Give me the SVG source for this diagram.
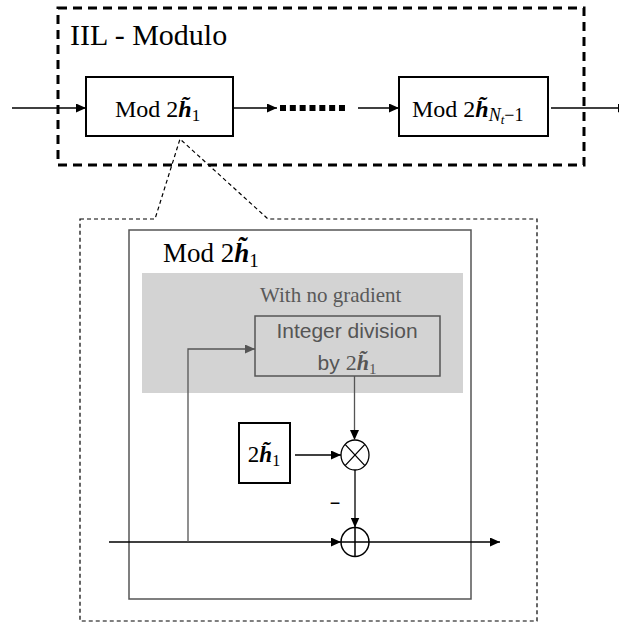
<svg xmlns="http://www.w3.org/2000/svg" width="619" height="624" viewBox="0 0 619 624">
<defs>
<style>
.hb{font-weight:bold;font-style:italic;}
.ln{stroke:#000;stroke-width:1.3;fill:none;}
.gl{stroke:#555;stroke-width:1.3;fill:none;}
.box{fill:#fff;stroke:#000;stroke-width:2;}
</style>
<marker id="ah" markerUnits="userSpaceOnUse" markerWidth="10" markerHeight="9" refX="10" refY="4.5" orient="auto">
<path d="M0,0 L10,4.5 L0,9 Z" fill="#000"/>
</marker>
<marker id="ahg" markerUnits="userSpaceOnUse" markerWidth="10" markerHeight="9" refX="10" refY="4.5" orient="auto">
<path d="M0,0 L10,4.5 L0,9 Z" fill="#555"/>
</marker>
</defs>
<rect width="619" height="624" fill="#fff"/>

<g id="iil-module">
<rect x="58" y="8" width="526" height="157" fill="none" stroke="#000" stroke-width="3" stroke-dasharray="9 6"/>
<text x="70" y="45" font-family="Liberation Serif, serif" font-size="30">IIL - Modulo</text>
</g>

<g id="zoom-outline">
<path d="M80,219 L155,219 L180,139 L268,219 L537,219 L537,621 L80,621 Z" fill="none" stroke="#000" stroke-width="1.2" stroke-dasharray="4 3"/>
</g>

<g id="mod1">
<rect x="86" y="77" width="147" height="59" class="box"/>
<text x="115" y="117" font-family="Liberation Serif, serif" font-size="24">Mod 2<tspan class="hb">h̃</tspan><tspan font-size="17" dy="4">1</tspan></text>
</g>

<g id="modN">
<rect x="399" y="77" width="149" height="59" class="box"/>
<text x="412" y="117" font-family="Liberation Serif, serif" font-size="24">Mod 2<tspan class="hb">h̃</tspan><tspan font-size="18" font-style="italic" dy="4">N</tspan><tspan font-size="13" font-style="italic" dy="3">t</tspan><tspan font-size="18" dy="-3">−1</tspan></text>
</g>

<g id="mod-detail">
<rect x="129" y="230" width="342" height="369" fill="none" stroke="#555" stroke-width="1.5"/>
<text x="163" y="262" font-family="Liberation Serif, serif" font-size="27">Mod 2<tspan class="hb">h̃</tspan><tspan font-size="19" dy="5">1</tspan></text>
</g>

<g id="no-gradient">
<rect x="142" y="273" width="321" height="120" fill="#d3d3d3"/>
<text x="260" y="302" font-family="Liberation Serif, serif" font-size="21" fill="#595959">With no gradient</text>
</g>

<g id="integer-division">
<rect x="255" y="316" width="185" height="60" fill="none" stroke="#555" stroke-width="1.5"/>
<text x="347" y="338" font-family="Liberation Sans, sans-serif" font-size="21" fill="#555" text-anchor="middle">Integer division</text>
<text x="347" y="370" font-family="Liberation Sans, sans-serif" font-size="21" fill="#555" text-anchor="middle">by <tspan font-family="Liberation Serif, serif" font-size="22">2</tspan><tspan font-family="Liberation Serif, serif" class="hb" font-size="22">h̃</tspan><tspan font-family="Liberation Serif, serif" font-size="15" dy="4">1</tspan></text>
</g>

<g id="const-2h">
<rect x="239" y="423" width="51" height="60" class="box"/>
<text x="264" y="462" font-family="Liberation Serif, serif" font-size="23" text-anchor="middle">2<tspan class="hb">h̃</tspan><tspan font-size="16" dy="4">1</tspan></text>
</g>

<g id="multiply">
<ellipse cx="355" cy="455" rx="14" ry="15" fill="#fff" stroke="#000" stroke-width="1.3"/>
<path d="M345.1,444.4 L364.9,465.6 M364.9,444.4 L345.1,465.6" class="ln"/>
</g>

<g id="add">
<ellipse cx="355" cy="542" rx="14" ry="14.5" fill="#fff" stroke="#000" stroke-width="1.5"/>
<path d="M341,542 L369,542 M355,527.5 L355,556.5" stroke="#000" stroke-width="1.5"/>
</g>

<g id="connectors">
<line x1="12" y1="108" x2="86" y2="108" class="ln" marker-end="url(#ah)"/>
<line x1="233" y1="108" x2="277" y2="108" class="ln" marker-end="url(#ah)"/>
<line x1="280" y1="108" x2="345" y2="108" stroke="#000" stroke-width="6" stroke-dasharray="6 3.83"/>
<line x1="358" y1="108" x2="399" y2="108" class="ln" marker-end="url(#ah)"/>
<line x1="551" y1="108" x2="628" y2="108" class="ln" marker-end="url(#ah)"/>
<line x1="109" y1="542" x2="341" y2="542" class="ln" marker-end="url(#ah)"/>
<line x1="369" y1="542" x2="500" y2="542" class="ln" marker-end="url(#ah)"/>
<polyline points="188,542 188,349 255,349" class="gl" marker-end="url(#ahg)"/>
<line x1="354.5" y1="376" x2="354.5" y2="440" class="gl" marker-end="url(#ah)"/>
<line x1="295" y1="455" x2="341" y2="455" class="ln" marker-end="url(#ah)"/>
<line x1="355" y1="470" x2="355" y2="527.5" class="ln" marker-end="url(#ah)"/>
<text x="335" y="509" font-family="Liberation Sans, sans-serif" font-size="18" text-anchor="middle">−</text>
</g>
</svg>
